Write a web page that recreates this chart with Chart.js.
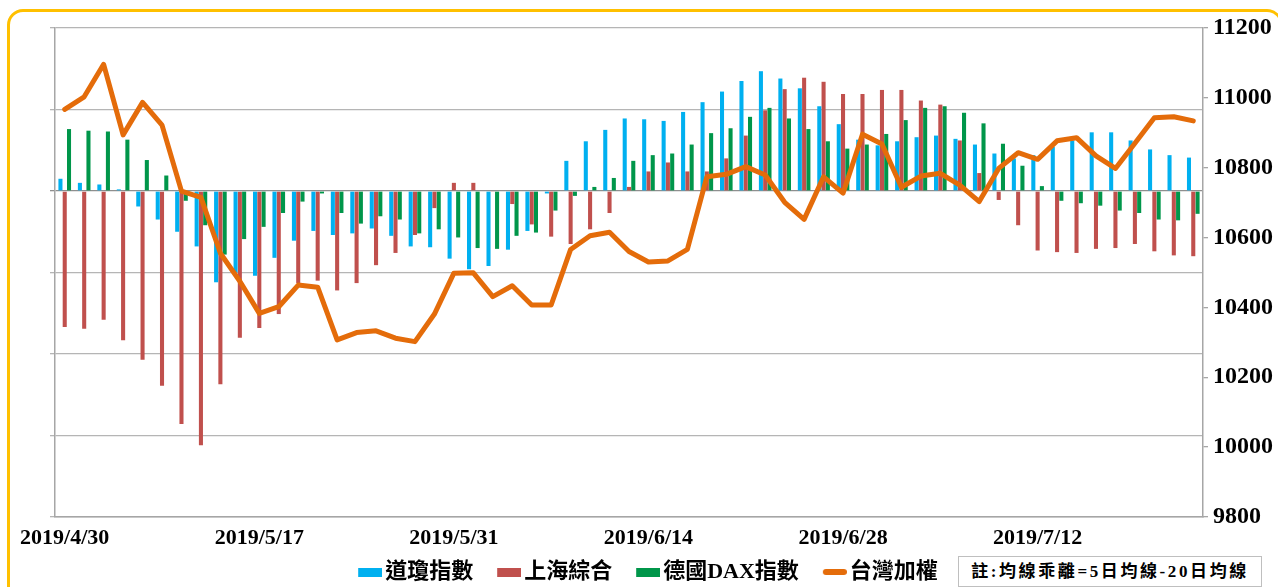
<!DOCTYPE html>
<html lang="zh-Hant">
<head>
<meta charset="utf-8">
<title>均線乖離</title>
<script src="https://cdn.jsdelivr.net/npm/chart.js@4.4.1/dist/chart.umd.min.js"></script>
<style>
  html, body { margin: 0; padding: 0; background: #fff; overflow: hidden; }
  #wrap { position: relative; width: 1278px; height: 587px; overflow: hidden; }
  #frame {
    position: absolute; left: 7px; top: 9px; width: 1276px; height: 610px;
    border: 3px solid #FFC000; border-radius: 16px; box-sizing: border-box;
  }
  #chart-main { position: absolute; left: 0; top: 0; }
  #note {
    position: absolute; left: 958px; top: 556px; width: 304px; height: 31px;
    border: 1px solid #BFBFBF; box-sizing: border-box; background: #fff;
    font: bold 17px 'Liberation Serif', 'Noto Sans CJK TC';
    line-height: 29px; text-align: center; letter-spacing: 2.6px; color: #000;
  }
</style>
</head>
<body>
<div id="wrap">
  <div id="frame"></div>
  <canvas id="chart-main" width="1278" height="587"></canvas>
  <div id="note">註:均線乖離=5日均線-20日均線</div>
</div>
<script>
(function() {
  "use strict";

  // 交易日（每 10 筆顯示一個標籤）
  var DATES = [
    '2019/4/30', '2019/5/3', '2019/5/6', '2019/5/7', '2019/5/8', '2019/5/9', '2019/5/10', '2019/5/13', '2019/5/15', '2019/5/16',
    '2019/5/17', '2019/5/20', '2019/5/21', '2019/5/22', '2019/5/23', '2019/5/24', '2019/5/27', '2019/5/28', '2019/5/29', '2019/5/30',
    '2019/5/31', '2019/6/3', '2019/6/4', '2019/6/5', '2019/6/6', '2019/6/7', '2019/6/10', '2019/6/11', '2019/6/12', '2019/6/13',
    '2019/6/14', '2019/6/17', '2019/6/18', '2019/6/19', '2019/6/20', '2019/6/21', '2019/6/24', '2019/6/25', '2019/6/26', '2019/6/27',
    '2019/6/28', '2019/7/1', '2019/7/2', '2019/7/3', '2019/7/4', '2019/7/5', '2019/7/8', '2019/7/9', '2019/7/10', '2019/7/11',
    '2019/7/12', '2019/7/15', '2019/7/16', '2019/7/17', '2019/7/18', '2019/7/19', '2019/7/22', '2019/7/23', '2019/7/24'
  ];
  var LABEL_STEP = 10;

  // 均線乖離（左軸，未標示刻度）
  var DOW_BIAS = [
    0.15, 0.10, 0.08, 0.02, -0.19, -0.35, -0.50, -0.68, -1.12, -1.00,
    -1.04, -0.82, -0.61, -0.49, -0.54, -0.52, -0.46, -0.55, -0.68, -0.69,
    -0.83, -0.96, -0.92, -0.72, -0.49, -0.03, 0.37, 0.61, 0.75, 0.89,
    0.88, 0.86, 0.97, 1.09, 1.22, 1.35, 1.47, 1.38, 1.26, 1.04,
    0.82, 0.63, 0.56, 0.61, 0.66, 0.68, 0.64, 0.57, 0.46, 0.40,
    0.44, 0.54, 0.62, 0.72, 0.72, 0.62, 0.51, 0.44, 0.41
  ];
  var SH_BIAS = [
    -1.67, -1.69, -1.58, -1.83, -2.07, -2.39, -2.86, -3.12, -2.37, -1.80,
    -1.68, -1.51, -1.13, -1.10, -1.22, -1.13, -0.91, -0.76, -0.54, -0.21,
    0.10, 0.10, -0.01, -0.16, -0.41, -0.56, -0.65, -0.47, -0.27, 0.05,
    0.24, 0.35, 0.24, 0.24, 0.40, 0.68, 0.99, 1.25, 1.39, 1.34,
    1.19, 1.19, 1.24, 1.24, 1.11, 1.06, 0.62, 0.22, -0.11, -0.42,
    -0.73, -0.75, -0.76, -0.71, -0.70, -0.65, -0.74, -0.79, -0.80
  ];
  var DAX_BIAS = [
    0.76, 0.74, 0.73, 0.63, 0.38, 0.19, -0.12, -0.42, -0.78, -0.59,
    -0.44, -0.27, -0.13, -0.03, -0.27, -0.40, -0.31, -0.35, -0.52, -0.47,
    -0.57, -0.70, -0.71, -0.55, -0.51, -0.24, -0.06, 0.05, 0.16, 0.37,
    0.44, 0.46, 0.57, 0.71, 0.77, 0.91, 1.02, 0.89, 0.76, 0.61,
    0.52, 0.57, 0.70, 0.87, 1.02, 1.04, 0.96, 0.83, 0.58, 0.31,
    0.06, -0.12, -0.15, -0.18, -0.24, -0.27, -0.35, -0.36, -0.28
  ];

  // 台灣加權指數（右軸）
  var TAIEX = [
    10967, 11003, 11096, 10894, 10987, 10922, 10733, 10715, 10555, 10475,
    10383, 10402, 10464, 10458, 10307, 10328, 10333, 10312, 10302, 10381,
    10498, 10499, 10431, 10462, 10407, 10407, 10566, 10605, 10615, 10560,
    10530, 10533, 10566, 10774, 10781, 10803, 10779, 10701, 10652, 10774,
    10727, 10896, 10868, 10744, 10776, 10784, 10750, 10703, 10798, 10843,
    10824, 10877, 10886, 10834, 10798, 10870, 10943, 10946, 10934
  ];

  var BIAS_MIN = -4, BIAS_MAX = 2, BIAS_STEP = 1;
  var TAIEX_MIN = 9800, TAIEX_MAX = 11200, TAIEX_STEP = 200;

  var BLUE = '#00B0F0';
  var RED = '#C0504D';
  var GREEN = '#00964A';
  var ORANGE = '#E46C0A';
  var AXIS_GRAY = '#A6A6A6';
  var LATIN_BOLD = "'Liberation Serif', 'Noto Sans CJK TC'";

  var LEGEND_FONT = 22;
  var LEGEND_PAD = 24;
  var LEGEND_TEXT_Y = 572;   // 圖例文字中心
  var LEGEND_SHIFT = 9;

  // 圖例色塊：畫在比版面框更寬的小畫布上，讓色塊貼近文字
  function swatch(color, isLine) {
    var c = document.createElement('canvas');
    c.width = 32;
    c.height = 10;
    var g = c.getContext('2d');
    if (isLine) {
      g.strokeStyle = color;
      g.lineWidth = 6;
      g.lineCap = 'round';
      g.beginPath();
      g.moveTo(11, 5);
      g.lineTo(29, 5);
      g.stroke();
    } else {
      g.fillStyle = color;
      g.fillRect(8, 1, 24, 9);
    }
    return c;
  }

  function barSet(label, values, color) {
    return {
      label: label,
      data: values,
      backgroundColor: color,
      borderWidth: 0,
      yAxisID: 'y',
      order: 1,
      categoryPercentage: 0.66,
      barPercentage: 0.95
    };
  }

  function legendLabels(chart) {
    var items = Chart.defaults.plugins.legend.labels.generateLabels(chart);
    items.forEach(function(it) {
      var ds = chart.data.datasets[it.datasetIndex];
      it.pointStyle = ds.type === 'line' ? swatch(ds.borderColor, true) : swatch(ds.backgroundColor, false);
    });
    return items.sort(function(a, b) { return a.datasetIndex - b.datasetIndex; });
  }

  // 把圖例往上移，疊在 x 軸標籤下方
  var legendNudge = {
    id: 'legendNudge',
    afterLayout: function(chart) {
      var lg = chart.legend;
      if (!lg) return;
      var top = LEGEND_TEXT_Y - LEGEND_PAD - LEGEND_FONT / 2;
      lg.top = top;
      lg.bottom = chart.height;
      lg.height = lg.bottom - top;
      lg.left += LEGEND_SHIFT;
      lg.right += LEGEND_SHIFT;
    }
  };

  var ctx = document.getElementById('chart-main');
  new Chart(ctx, {
    type: 'bar',
    data: {
      labels: DATES,
      datasets: [
        barSet('道瓊指數', DOW_BIAS, BLUE),
        barSet('上海綜合', SH_BIAS, RED),
        barSet('德國DAX指數', DAX_BIAS, GREEN),
        {
          type: 'line',
          label: '台灣加權',
          data: TAIEX,
          yAxisID: 'y1',
          order: 0,
          borderColor: ORANGE,
          backgroundColor: ORANGE,
          borderWidth: 5,
          borderJoinStyle: 'round',
          borderCapStyle: 'round',
          pointRadius: 0,
          tension: 0,
          fill: false
        }
      ]
    },
    plugins: [legendNudge],
    options: {
      responsive: false,
      animation: false,
      devicePixelRatio: 1,
      layout: { padding: { top: 28, left: 0, right: 0, bottom: 0 } },
      plugins: {
        tooltip: { enabled: false },
        legend: {
          position: 'bottom',
          maxHeight: 34,
          labels: {
            usePointStyle: true,
            pointStyleWidth: 16,
            boxWidth: 16,
            boxHeight: 9,
            padding: LEGEND_PAD,
            color: '#000',
            font: { family: LATIN_BOLD, size: LEGEND_FONT, weight: 'bold' },
            generateLabels: legendLabels
          }
        }
      },
      scales: {
        x: {
          offset: true,
          grid: { display: false, drawTicks: false },
          border: { display: true, color: AXIS_GRAY, width: 1.5 },
          ticks: {
            autoSkip: false,
            maxRotation: 0,
            minRotation: 0,
            padding: 8,
            color: '#000',
            font: { family: LATIN_BOLD, size: 22, weight: 'bold' },
            callback: function(v, i) { return i % LABEL_STEP === 0 ? DATES[i] : ''; }
          },
          afterFit: function(s) { s.height = 36; }
        },
        y: {
          position: 'left',
          min: BIAS_MIN,
          max: BIAS_MAX,
          ticks: { display: false, stepSize: BIAS_STEP },
          grid: {
            color: function(c) { return c.tick && c.tick.value === 0 ? '#8F8F8F' : '#B5B5B5'; },
            lineWidth: 1.3,
            tickLength: 5
          },
          border: { display: true, color: AXIS_GRAY, width: 1.5 },
          afterFit: function(s) { s.width = 55; }
        },
        y1: {
          position: 'right',
          min: TAIEX_MIN,
          max: TAIEX_MAX,
          ticks: {
            stepSize: TAIEX_STEP,
            padding: 5,
            color: '#000',
            font: { family: LATIN_BOLD, size: 24, weight: 'bold' },
            callback: function(v) { return String(v); }
          },
          grid: { drawOnChartArea: false, tickLength: 5, color: AXIS_GRAY, lineWidth: 1.3 },
          border: { display: true, color: AXIS_GRAY, width: 1.5 },
          afterFit: function(s) { s.width = 75; }
        }
      }
    }
  });
})();
</script>
</body>
</html>
